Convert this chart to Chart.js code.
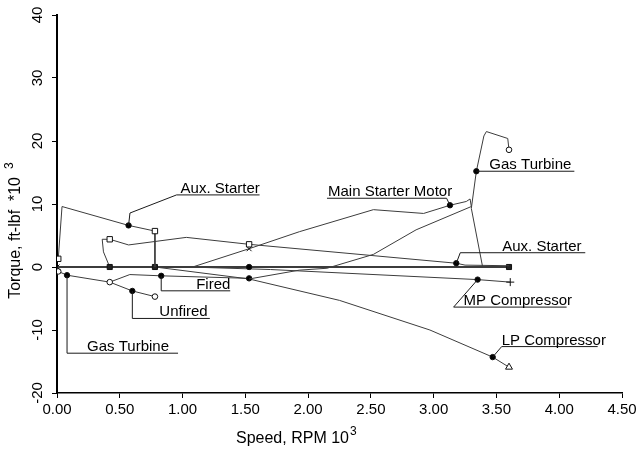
<!DOCTYPE html>
<html>
<head>
<meta charset="utf-8">
<script src="https://cdn.jsdelivr.net/npm/chart.js@4.4.0/dist/chart.umd.min.js"></script>
<style>
  html, body { margin: 0; padding: 0; background: #fff; }
</style>
</head>
<body>
<canvas id="torque" width="642" height="451"></canvas>
<script>
// axis ticks
const xTickLabels = ['0.00', '0.50', '1.00', '1.50', '2.00', '2.50', '3.00', '3.50', '4.00', '4.50'];
const yTickLabels = ['-20', '-10', '0', '10', '20', '30', '40'];

// curves: [speed RPM x10^3, torque ft-lbf x10^3]
const auxStarterHigh = [[0.01, 1.3], [0.04, 9.6], [0.57, 6.6], [0.78, 5.7], [0.78, 0]];
const auxStarterLow = [[0.42, 0], [0.37, 2.4], [0.36, 4.4], [0.42, 4.4], [0.57, 3.5], [1.03, 4.7], [1.53, 3.6], [3.18, 0.6], [3.25, 0.3], [3.60, 0.2]];
const baseLine = [[0, 0], [0.42, 0], [0.78, 0], [1.53, 0], [3.39, 0], [3.60, 0]];
const mainStarterMotor = [[1.08, 0], [1.53, 2.9], [1.93, 5.6], [2.52, 9.1], [2.92, 8.5], [3.13, 9.8], [3.26, 10.4], [3.29, 10.8], [3.30, 9.6], [2.86, 5.9], [2.52, 2.0], [2.15, -0.2], [1.93, -0.5], [1.53, -1.9]];
const gasTurbineHigh = [[3.39, 0], [3.30, 9.3], [3.34, 15.2], [3.40, 20.8], [3.42, 21.5], [3.59, 20.4], [3.60, 18.6]];
const gasTurbineUnfired = [[0.01, -0.7], [0.08, -1.3], [0.42, -2.4], [0.60, -3.8], [0.78, -4.7]];
const gasTurbineFired = [[0.42, -2.4], [0.58, -1.2], [0.83, -1.4], [1.53, -1.8]];
const mpCompressor = [[1.05, 0], [1.70, -0.4], [3.35, -2.0], [3.61, -2.4]];
const lpCompressor = [[0.82, -0.1], [1.53, -1.9], [2.25, -5.3], [2.97, -10.0], [3.47, -14.3], [3.60, -15.9]];

const curves = { auxStarterHigh, auxStarterLow, baseLine, mainStarterMotor, gasTurbineHigh, gasTurbineUnfired, gasTurbineFired, mpCompressor, lpCompressor };

// label text and the point each one points at
const calloutText = ['Aux. Starter', 'Main Starter Motor', 'Gas Turbine', 'Aux. Starter', 'MP Compressor', 'LP Compressor', 'Fired', 'Unfired', 'Gas Turbine'];
const calloutAnchor = [
  ['auxStarterHigh', 2], ['mainStarterMotor', 5], ['gasTurbineHigh', 2], ['auxStarterLow', 7],
  ['mpCompressor', 2], ['lpCompressor', 4], ['gasTurbineFired', 2], ['gasTurbineUnfired', 3], ['gasTurbineUnfired', 1]
];

// leader line shapes (px offsets from the anchor), last segment is the underline
const calloutLayout = [
  { path: [[1.4, -12.4], [48, -30.5], [131, -30.5]], textX: 52 },
  { path: [[-3.4, -7], [-123, -7]], textX: -122 },
  { path: [[98, 0]], textX: 13 },
  { path: [[4, -10.5], [129, -10.5]], textX: 46 },
  { path: [[-24, 27.5], [89, 27.5]], textX: -14 },
  { path: [[9, -10.5], [105, -10.5]], textX: 9 },
  { path: [[0, 15], [69, 15]], textX: 35 },
  { path: [[0, 27.5], [77.5, 27.5]], textX: 27 },
  { path: [[0, 78], [111, 78]], textX: 20 }
];

// marker kinds drawn at chosen points of each curve
const MARKS = {
  dot: { style: 'circle', r: 2.7, fill: '#000' },
  circle: { style: 'circle', r: 2.8, fill: '#fff' },
  square: { style: 'rect', r: 3.8, fill: '#fff' },
  fsquare: { style: 'rect', r: 3.6, fill: '#222' },
  xmark: { style: 'crossRot', r: 3.5, fill: '#000' },
  plus: { style: 'cross', r: 4, fill: '#000' },
  triangle: { style: 'triangle', r: 4, fill: '#fff' }
};
const curveMarks = {
  auxStarterHigh: { 0: 'square', 2: 'dot', 3: 'square' },
  auxStarterLow: { 0: 'fsquare', 3: 'square', 6: 'square', 7: 'dot' },
  baseLine: { 0: 'xmark', 2: 'fsquare', 3: 'dot', 5: 'fsquare' },
  mainStarterMotor: { 1: 'xmark', 5: 'dot' },
  gasTurbineHigh: { 2: 'dot', 6: 'circle' },
  gasTurbineUnfired: { 0: 'circle', 1: 'dot', 2: 'circle', 3: 'dot', 4: 'circle' },
  gasTurbineFired: { 2: 'dot', 3: 'dot' },
  mpCompressor: { 2: 'dot', 3: 'plus' },
  lpCompressor: { 4: 'dot', 5: 'triangle' }
};

const FONT = '"Liberation Sans", Arial, sans-serif';

const datasets = Object.keys(curves).map(name => {
  const pts = curves[name];
  const marks = curveMarks[name] || {};
  const kind = i => marks[i] ? MARKS[marks[i]] : null;
  return {
    label: name,
    data: pts.map(p => ({ x: p[0], y: p[1] })),
    showLine: true,
    borderColor: '#3c3c3c',
    borderWidth: name === 'baseLine' ? 1.8 : 1,
    tension: 0,
    pointStyle: pts.map((p, i) => kind(i) ? kind(i).style : 'circle'),
    pointRadius: pts.map((p, i) => kind(i) ? kind(i).r : 0),
    pointBackgroundColor: pts.map((p, i) => kind(i) ? kind(i).fill : '#000'),
    pointBorderColor: '#111',
    pointBorderWidth: 1,
    pointHoverRadius: 0
  };
});

const annotate = {
  id: 'annotate',
  afterDatasetsDraw(chart) {
    const { ctx, scales: { x, y } } = chart;
    ctx.save();
    ctx.strokeStyle = '#1a1a1a';
    ctx.lineWidth = 1;
    ctx.fillStyle = '#000';
    ctx.font = '15px ' + FONT;
    ctx.textBaseline = 'alphabetic';
    calloutText.forEach((text, i) => {
      const [series, idx] = calloutAnchor[i];
      const pt = curves[series][idx];
      const ax = x.getPixelForValue(pt[0]);
      const ay = y.getPixelForValue(pt[1]);
      const lay = calloutLayout[i];
      ctx.beginPath();
      ctx.moveTo(ax, ay);
      lay.path.forEach(([dx, dy]) => ctx.lineTo(ax + dx, ay + dy));
      ctx.stroke();
      const lineY = ay + lay.path[lay.path.length - 1][1];
      ctx.fillText(text, ax + lay.textX, lineY - 2);
    });
    ctx.restore();
  },
  afterDraw(chart) {
    const ctx = chart.ctx;
    ctx.save();
    ctx.fillStyle = '#000';
    ctx.textBaseline = 'alphabetic';
    ctx.textAlign = 'left';

    // x title with superscript
    ctx.font = '16px ' + FONT;
    const xt = 'Speed, RPM 10';
    ctx.fillText(xt, 236, 443);
    const xw = ctx.measureText(xt).width;
    ctx.font = '12px ' + FONT;
    ctx.fillText('3', 236 + xw + 1, 435);

    // y title, rotated, ending just below the superscript
    ctx.translate(20, 177);
    ctx.rotate(-Math.PI / 2);
    ctx.font = '16px ' + FONT;
    ctx.textAlign = 'right';
    ctx.fillText('Torque, ft-lbf  *10', 0, 0);
    ctx.textAlign = 'left';
    ctx.font = '12px ' + FONT;
    ctx.fillText('3', 8, -7);
    ctx.restore();
  }
};

new Chart(document.getElementById('torque'), {
  type: 'scatter',
  data: { datasets },
  options: {
    responsive: false,
    animation: false,
    devicePixelRatio: 1,
    layout: { padding: { top: 15, right: 20, left: 0, bottom: 0 } },
    plugins: { legend: { display: false }, tooltip: { enabled: false } },
    scales: {
      x: {
        type: 'linear', min: 0, max: 4.5,
        afterFit: s => { s.height = 58; },
        ticks: {
          stepSize: 0.5, color: '#000', padding: 3, maxRotation: 0,
          font: { family: FONT, size: 15 },
          callback: (v, i) => xTickLabels[i]
        },
        grid: { drawOnChartArea: false, color: '#000', tickLength: 5, tickWidth: 1 },
        border: { color: '#000', width: 1.5 }
      },
      y: {
        type: 'linear', min: -20, max: 40,
        afterFit: s => { s.width = 57; },
        ticks: {
          stepSize: 10, color: '#000', padding: 3,
          minRotation: 90, maxRotation: 90, crossAlign: 'center',
          font: { family: FONT, size: 15 },
          callback: (v, i) => yTickLabels[i]
        },
        grid: { drawOnChartArea: false, color: '#000', tickLength: 5, tickWidth: 1 },
        border: { color: '#000', width: 2 }
      }
    }
  },
  plugins: [annotate]
});
</script>
</body>
</html>
